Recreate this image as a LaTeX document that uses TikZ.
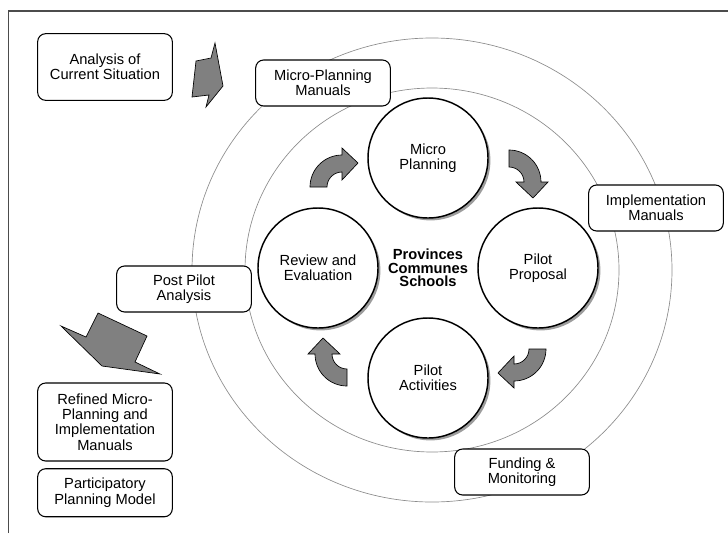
\documentclass[tikz,border=0pt]{standalone}
\usepackage{fontspec}
\setmainfont{Liberation Sans}
\usepackage{tikz}
\usetikzlibrary{calc, shadows, positioning}

\tikzset{
    infobox/.style={draw, line width=0.8pt, rounded corners=6pt, fill=white,
        align=center, minimum width=101pt, minimum height=34.5pt, inner sep=1pt,
        font=\fontsize{11}{11.4}\selectfont},
    stage/.style={circle, draw, line width=1.1pt, fill=white, align=center,
        minimum size=90pt, inner sep=1pt, font=\fontsize{11}{11.4}\selectfont,
        drop shadow={shadow xshift=1.8pt, shadow yshift=-1.8pt, fill=black!70, opacity=0.55}},
    ringline/.style={draw=black!45, line width=0.5pt},
    blockarrow/.style={draw=black, line width=0.5pt, fill=black!50, line join=miter}
}

\begin{document}
\begin{tikzpicture}[x=0.75pt, y=0.75pt]

    % =================================================================
    % 1. KHUNG VA CAC VONG TRON DONG TAM
    % =================================================================
    \useasboundingbox (0,0) rectangle (728,-533);
    \draw[black!70, line width=1.1pt] (8.5,-533) -- (8.5,-11) -- (728,-11);

    % Tam chung cua hai vong tron mo va bon vong tron chinh
    \coordinate (R) at (432,-270);
    \coordinate (O) at (428,-268);
    \draw[ringline] (R) ellipse [x radius=187, y radius=182];
    \draw[ringline] (R) ellipse [x radius=240, y radius=232];

    % =================================================================
    % 2. MUI TEN KHOI (XAM) BEN TRAI
    % =================================================================
    \draw[blockarrow] (196,-61) -- (211,-58) -- (215,-43) -- (223,-86)
        -- (206,-107) -- (209,-95) -- (192,-97) -- cycle;
    \draw[blockarrow] (98,-313) -- (147,-336) -- (135,-362) -- (160,-374)
        -- (102,-366) -- (61,-326) -- (86,-337) -- cycle;

    % =================================================================
    % 3. CAC HOP CHU NHAT BO GOC
    % =================================================================
    \node[infobox, minimum height=50pt] (anl) at (105,-67) {Analysis of\\Current Situation};
    \node[infobox] (mpm) at (323,-83) {Micro-Planning\\Manuals};
    \node[infobox] (imp) at (656,-208) {Implementation\\Manuals};
    \node[infobox] (post) at (184,-289) {Post Pilot\\Analysis};
    \node[infobox, minimum height=58.5pt] (refined) at (105,-422)
        {Refined Micro-\\Planning and\\Implementation\\Manuals};
    \node[infobox, minimum height=36pt, below=5pt of refined] (ppm) {Participatory\\Planning Model};
    \node[infobox] (fund) at (522,-472) {Funding \&\\Monitoring};

    % =================================================================
    % 4. BON VONG TRON CHINH VA NHAN O GIUA
    % =================================================================
    \node[stage] (micro) at (428,-158) {Micro\\Planning};
    \node[stage] (proposal) at (538,-268) {Pilot\\Proposal};
    \node[stage] (activities) at (428,-378) {Pilot\\Activities};
    \node[stage] (review) at (318,-268) {Review and\\Evaluation};
    \node[font=\bfseries\fontsize{11}{10.2}\selectfont, align=center] (hub) at (O)
        {Provinces\\Communes\\Schools};

    % =================================================================
    % 5. MUI TEN CONG XOAY THEO CHIEU KIM DONG HO
    % =================================================================
    \foreach \ang in {0,-90,-180,-270}{
        \begin{scope}[shift={(O)}, rotate=\ang]
            \draw[blockarrow] (-118,81) arc (180:90:32) -- (-86,120) -- (-70,105)
                -- (-86,88) -- (-86,96) arc (90:180:15) -- cycle;
        \end{scope}
    }

\end{tikzpicture}
\end{document}
